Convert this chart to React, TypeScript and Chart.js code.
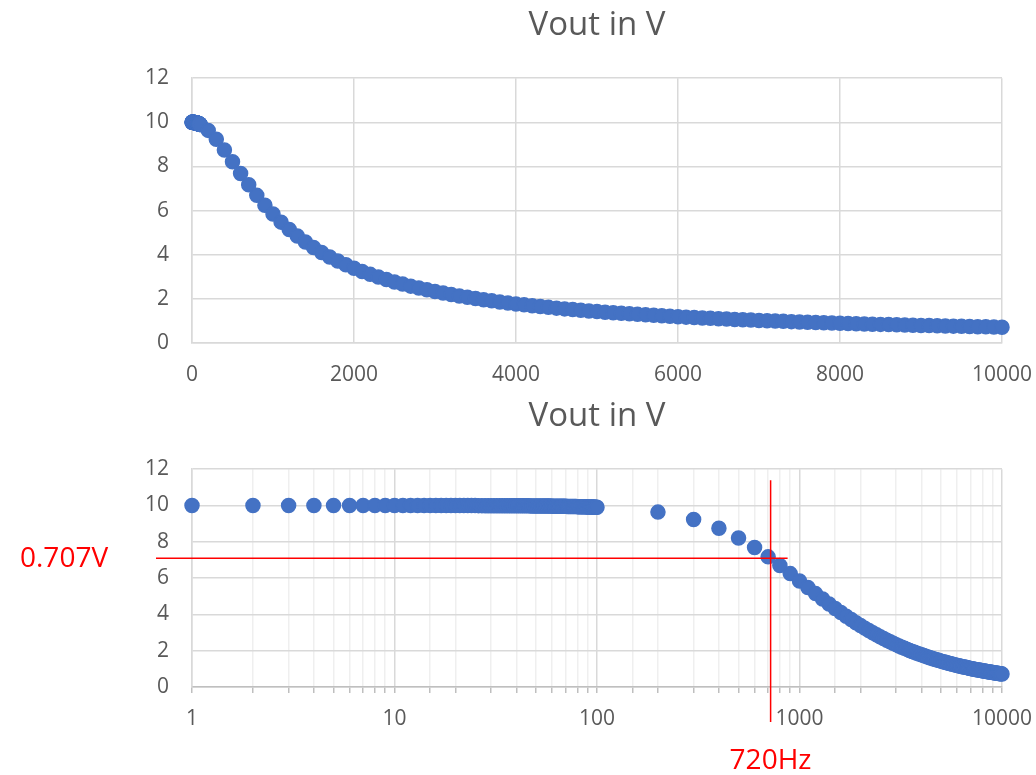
import React, { useEffect, useRef } from 'react';
import { Chart, registerables } from 'chart.js';

Chart.register(...registerables);

// ---- data ----
const FREQ_HZ: number[] = [
  1, 2, 3, 4, 5, 6, 7, 8, 9, 10,
  11, 12, 13, 14, 15, 16, 17, 18, 19, 20,
  21, 22, 23, 24, 25, 26, 27, 28, 29, 30,
  31, 32, 33, 34, 35, 36, 37, 38, 39, 40,
  41, 42, 43, 44, 45, 46, 47, 48, 49, 50,
  51, 52, 53, 54, 55, 56, 57, 58, 59, 60,
  61, 62, 63, 64, 65, 66, 67, 68, 69, 70,
  71, 72, 73, 74, 75, 76, 77, 78, 79, 80,
  81, 82, 83, 84, 85, 86, 87, 88, 89, 90,
  91, 92, 93, 94, 95, 96, 97, 98, 99, 100,
  200, 300, 400, 500, 600, 700, 800, 900, 1000,
  1100, 1200, 1300, 1400, 1500, 1600, 1700, 1800, 1900, 2000,
  2100, 2200, 2300, 2400, 2500, 2600, 2700, 2800, 2900, 3000,
  3100, 3200, 3300, 3400, 3500, 3600, 3700, 3800, 3900, 4000,
  4100, 4200, 4300, 4400, 4500, 4600, 4700, 4800, 4900, 5000,
  5100, 5200, 5300, 5400, 5500, 5600, 5700, 5800, 5900, 6000,
  6100, 6200, 6300, 6400, 6500, 6600, 6700, 6800, 6900, 7000,
  7100, 7200, 7300, 7400, 7500, 7600, 7700, 7800, 7900, 8000,
  8100, 8200, 8300, 8400, 8500, 8600, 8700, 8800, 8900, 9000,
  9100, 9200, 9300, 9400, 9500, 9600, 9700, 9800, 9900, 10000,
];

const VOUT_V: number[] = [
  10.0, 10.0, 10.0, 10.0, 10.0, 10.0, 10.0, 9.999, 9.999, 9.999,
  9.999, 9.999, 9.998, 9.998, 9.998, 9.998, 9.997, 9.997, 9.997, 9.996,
  9.996, 9.995, 9.995, 9.994, 9.994, 9.993, 9.993, 9.992, 9.992, 9.991,
  9.991, 9.99, 9.989, 9.989, 9.988, 9.987, 9.987, 9.986, 9.985, 9.985,
  9.984, 9.983, 9.982, 9.981, 9.98, 9.98, 9.979, 9.978, 9.977, 9.976,
  9.975, 9.974, 9.973, 9.972, 9.971, 9.97, 9.969, 9.968, 9.966, 9.965,
  9.964, 9.963, 9.962, 9.961, 9.959, 9.958, 9.957, 9.955, 9.954, 9.953,
  9.951, 9.95, 9.949, 9.947, 9.946, 9.944, 9.943, 9.941, 9.94, 9.938,
  9.937, 9.935, 9.934, 9.932, 9.93, 9.929, 9.927, 9.925, 9.924, 9.922,
  9.92, 9.918, 9.917, 9.915, 9.913, 9.911, 9.909, 9.907, 9.906, 9.905,
  9.635, 9.231, 8.742, 8.214, 7.682, 7.17, 6.69, 6.247, 5.843,
  5.477, 5.145, 4.845, 4.573, 4.327, 4.104, 3.9, 3.714, 3.544, 3.387,
  3.243, 3.11, 2.987, 2.873, 2.767, 2.669, 2.577, 2.49, 2.41, 2.334,
  2.262, 2.195, 2.132, 2.072, 2.015, 1.961, 1.91, 1.862, 1.815, 1.772,
  1.73, 1.69, 1.651, 1.615, 1.58, 1.546, 1.514, 1.483, 1.454, 1.425,
  1.398, 1.372, 1.346, 1.322, 1.298, 1.275, 1.253, 1.232, 1.211, 1.191,
  1.172, 1.154, 1.135, 1.118, 1.101, 1.084, 1.068, 1.053, 1.038, 1.023,
  1.009, 0.995, 0.982, 0.968, 0.956, 0.943, 0.931, 0.919, 0.908, 0.896,
  0.885, 0.875, 0.864, 0.854, 0.844, 0.834, 0.825, 0.815, 0.806, 0.797,
  0.789, 0.78, 0.772, 0.764, 0.756, 0.748, 0.74, 0.733, 0.725, 0.718,
];

const LIN_X_TICKS: number[] = [0, 2000, 4000, 6000, 8000, 10000];
const Y_TICKS: number[] = [0, 2, 4, 6, 8, 10, 12];
const LOG_X_LABELS: number[] = [1, 10, 100, 1000, 10000];

const TITLE = 'Vout in V';
const CUTOFF_HZ = 720;
const CUTOFF_V = 7.1;
const CUTOFF_V_LABEL = '0.707V';
const CUTOFF_HZ_LABEL = '720Hz';

// ---- styling ----
const FONT = "'Open Sans', 'DejaVu Sans', sans-serif";
const TEXT = '#595959';
const GRID = '#d9d9d9';
const GRID_MINOR = '#efefef';
const BLUE = '#4472C4';
const RED = '#ff0000';
const TICK_SIZE = 21;

const points = () => FREQ_HZ.map((x, i) => ({ x, y: VOUT_V[i] }));

const dataset = () => ({
  label: TITLE,
  data: points(),
  backgroundColor: BLUE,
  borderColor: BLUE,
  pointRadius: 7,
  pointBorderWidth: 1.5,
  pointHoverRadius: 7,
  showLine: false,
  clip: false as any,
});

const titleOpts = (padTop: number, padBottom: number) => ({
  display: true,
  text: TITLE,
  fullSize: false,
  color: TEXT,
  font: { family: FONT, size: 33, weight: 'normal' as any, lineHeight: 1.2 },
  padding: { top: padTop, bottom: padBottom },
});

const yScale = () => ({
  type: 'linear' as const,
  min: 0,
  max: 12,
  afterBuildTicks: (s: any) => {
    s.ticks = Y_TICKS.map((v) => ({ value: v }));
  },
  afterFit: (s: any) => {
    s.width = 192;
    s.paddingTop = 0;
    s.paddingBottom = 0;
  },
  grid: { color: GRID, lineWidth: 1.5, drawTicks: false },
  border: { color: GRID, width: 1.5 },
  ticks: { color: TEXT, font: { family: FONT, size: TICK_SIZE }, padding: 23 },
});

const cutoffPlugin = {
  id: 'cutoff',
  afterDatasetsDraw(chart: any) {
    const { ctx, chartArea, scales } = chart;
    const px = scales.x.getPixelForValue(CUTOFF_HZ);
    const py = scales.y.getPixelForValue(CUTOFF_V);
    ctx.save();
    ctx.strokeStyle = RED;
    ctx.lineWidth = 1.5;
    ctx.beginPath();
    ctx.moveTo(px, chartArea.top + 11);
    ctx.lineTo(px, chartArea.bottom + 35);
    ctx.moveTo(156, py);
    ctx.lineTo(px + 17, py);
    ctx.stroke();
    ctx.fillStyle = RED;
    ctx.font = `28px ${FONT}`;
    ctx.textBaseline = 'middle';
    ctx.textAlign = 'left';
    ctx.fillText(CUTOFF_V_LABEL, 20, py + 1);
    ctx.fillText(CUTOFF_HZ_LABEL, px - 41, chartArea.bottom + 74);
    ctx.restore();
  },
};

export default function App() {
  const topRef = useRef<HTMLCanvasElement>(null);
  const botRef = useRef<HTMLCanvasElement>(null);

  useEffect(() => {
    const top = new Chart(topRef.current as HTMLCanvasElement, {
      type: 'scatter',
      data: { datasets: [dataset() as any] },
      options: {
        responsive: false,
        animation: false,
        devicePixelRatio: 1,
        layout: { padding: { left: 0, right: 34, top: 0, bottom: 0 } },
        plugins: {
          legend: { display: false },
          tooltip: { enabled: false },
          title: titleOpts(5.5, 33.1) as any,
        },
        scales: {
          x: {
            type: 'linear',
            min: 0,
            max: 10000,
            afterBuildTicks: (s: any) => {
              s.ticks = LIN_X_TICKS.map((v) => ({ value: v }));
            },
            afterFit: (s: any) => {
              s.height = 47;
              s.paddingLeft = 0;
              s.paddingRight = 0;
            },
            grid: { color: GRID, lineWidth: 1.5, drawTicks: false },
            border: { color: GRID, width: 1.5 },
            ticks: {
              color: TEXT,
              font: { family: FONT, size: TICK_SIZE },
              padding: 19,
              maxRotation: 0,
              autoSkip: false,
              callback: (v: any) => String(v),
            },
          },
          y: yScale() as any,
        },
      },
    });

    const bottom = new Chart(botRef.current as HTMLCanvasElement, {
      type: 'scatter',
      data: { datasets: [dataset() as any] },
      options: {
        responsive: false,
        animation: false,
        devicePixelRatio: 1,
        layout: { padding: { left: 0, right: 34, top: 0, bottom: 0 } },
        plugins: {
          legend: { display: false },
          tooltip: { enabled: false },
          title: titleOpts(6.5, 33.1) as any,
        },
        scales: {
          x: {
            type: 'logarithmic',
            min: 1,
            max: 10000,
            afterFit: (s: any) => {
              s.height = 88;
              s.paddingLeft = 0;
              s.paddingRight = 0;
            },
            grid: {
              color: (c: any) =>
                c.tick && LOG_X_LABELS.includes(c.tick.value) ? GRID : GRID_MINOR,
              lineWidth: 1.5,
              drawTicks: true,
              tickLength: 6,
              tickColor: '#bfbfbf',
            },
            border: { color: '#bfbfbf', width: 1.5 },
            ticks: {
              color: TEXT,
              font: { family: FONT, size: TICK_SIZE },
              padding: 13,
              maxRotation: 0,
              autoSkip: false,
              callback: (v: any) => (LOG_X_LABELS.includes(Number(v)) ? String(v) : ''),
            },
          },
          y: yScale() as any,
        },
      },
      plugins: [cutoffPlugin],
    });

    return () => {
      top.destroy();
      bottom.destroy();
    };
  }, []);

  return (
    <div
      style={{
        position: 'absolute',
        left: 0,
        top: 0,
        width: 1036,
        height: 775,
        background: '#ffffff',
      }}
    >
      <canvas
        ref={topRef}
        width={1036}
        height={390}
        style={{ position: 'absolute', left: 0, top: 0 }}
      />
      <canvas
        ref={botRef}
        width={1036}
        height={385}
        style={{ position: 'absolute', left: 0, top: 390 }}
      />
    </div>
  );
}
